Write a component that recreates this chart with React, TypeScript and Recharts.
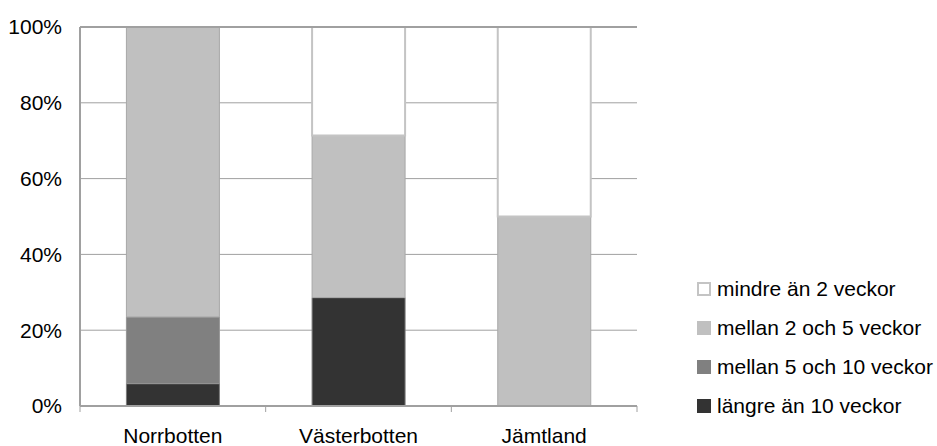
import { BarChart, Bar, XAxis, YAxis, CartesianGrid, ReferenceLine } from "recharts";

const regions = ["Norrbotten", "Västerbotten", "Jämtland"];
// share per duration class, percent
const langre10 = [5.9, 28.6, 0];
const mellan5_10 = [17.6, 0, 0];
const mellan2_5 = [76.5, 42.8, 50];
const mindre2 = [0, 28.6, 50];
const yTicks = [0, 20, 40, 60, 80, 100];

const data = regions.map((r, i) => ({
  region: r,
  langre10: langre10[i],
  mellan5_10: mellan5_10[i],
  mellan2_5: mellan2_5[i],
  mindre2: mindre2[i],
}));

const SERIES = [
  { key: "langre10", name: "längre än 10 veckor", fill: "#333333", stroke: "#7a7a7a", sw: 1 },
  { key: "mellan5_10", name: "mellan 5 och 10 veckor", fill: "#808080", stroke: "#959595", sw: 1 },
  { key: "mellan2_5", name: "mellan 2 och 5 veckor", fill: "#c0c0c0", stroke: "#a8a8a8", sw: 1 },
  { key: "mindre2", name: "mindre än 2 veckor", fill: "#ffffff", stroke: "#c4c4c4", sw: 2 },
];

const FONT = "'Liberation Sans', Arial, sans-serif";
const FS = 21;
const TICK_MARGIN = 22;

// category label plus boundary tick marks (Excel style, ticks between categories)
function RegionTick(props: any) {
  const { x, y, payload, index, visibleTicksCount } = props;
  const half = payload?.offset ?? 0;
  const axisY = y - TICK_MARGIN;
  const last = index === visibleTicksCount - 1;
  return (
    <g>
      <line x1={x - half} x2={x - half} y1={axisY} y2={axisY + 6} stroke="#a0a0a0" />
      {last && <line x1={x + half} x2={x + half} y1={axisY} y2={axisY + 6} stroke="#a0a0a0" />}
      <text x={x} y={y} dy="0.71em" textAnchor="middle" fill="#000" fontSize={FS}>
        {payload.value}
      </text>
    </g>
  );
}

function LegendBox() {
  const rows = [...SERIES].reverse();
  return (
    <div style={{ position: "absolute", left: 697, top: 269, fontFamily: FONT, fontSize: FS, color: "#000" }}>
      {rows.map((s) => (
        <div key={s.key} style={{ display: "flex", alignItems: "center", height: 39, whiteSpace: "nowrap" }}>
          <span
            style={{
              display: "inline-block",
              width: 10,
              height: 10,
              background: s.fill,
              border: `2px solid ${s.key === "mindre2" ? "#c4c4c4" : s.fill}`,
              marginRight: 6,
            }}
          />
          <span>{s.name}</span>
        </div>
      ))}
    </div>
  );
}

export default function App() {
  return (
    <div style={{ position: "absolute", left: 0, top: 0, width: 937, height: 446, background: "#fff" }}>
      <BarChart
        width={937}
        height={446}
        data={data}
        margin={{ top: 27, right: 300, bottom: 0, left: 0 }}
        barCategoryGap="25%"
        style={{ fontFamily: FONT }}
      >
        <CartesianGrid vertical={false} stroke="#a0a0a0" />
        <XAxis
          dataKey="region"
          height={40}
          axisLine={{ stroke: "#a0a0a0", strokeWidth: 2 }}
          tickLine={false}
          tickSize={0}
          tickMargin={TICK_MARGIN}
          interval={0}
          tick={<RegionTick />}
        />
        <YAxis
          domain={[0, 100]}
          ticks={yTicks}
          width={80}
          tickFormatter={(v) => `${v}%`}
          tickLine={false}
          tickSize={0}
          tickMargin={18}
          axisLine={{ stroke: "#a0a0a0", strokeWidth: 2 }}
          tick={{ fill: "#000", fontSize: FS }}
        />
        <YAxis
          yAxisId="right"
          orientation="right"
          domain={[0, 100]}
          width={0}
          tick={false}
          tickLine={false}
          axisLine={{ stroke: "#a0a0a0", strokeWidth: 2 }}
        />
        {SERIES.map((s) => (
          <Bar
            key={s.key}
            dataKey={s.key}
            name={s.name}
            stackId="a"
            fill={s.fill}
            stroke={s.stroke}
            strokeWidth={s.sw}
            isAnimationActive={false}
          />
        ))}
        <ReferenceLine y={100} stroke="#a0a0a0" strokeWidth={2} />
      </BarChart>
      <LegendBox />
    </div>
  );
}
